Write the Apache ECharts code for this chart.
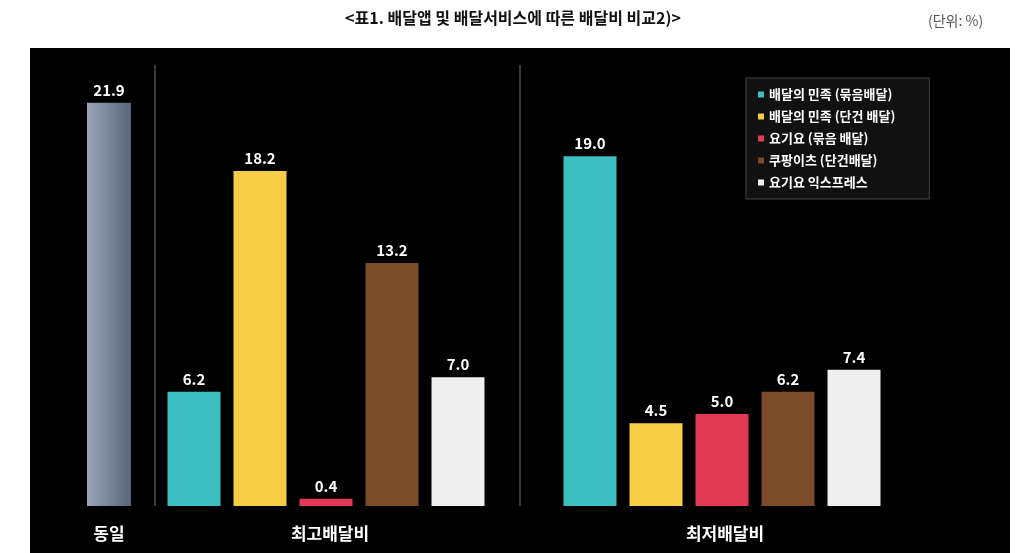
<!DOCTYPE html>
<html><head><meta charset="utf-8">
<script src="https://cdn.jsdelivr.net/npm/echarts@6/dist/echarts.min.js"></script>
<style>html,body{margin:0;padding:0;background:#fff}#c{width:1026px;height:553px}</style>
</head><body><div id="c"></div>
<script>
const groupNames = ['동일', '최고배달비', '최저배달비'];
const seriesNames = ['배달의 민족 (묶음배달)', '배달의 민족 (단건 배달)', '요기요 (묶음 배달)', '쿠팡이츠 (단건배달)', '요기요 익스프레스'];
const sameValue = [21.9];
const maxFee = [6.2, 18.2, 0.4, 13.2, 7.0];
const minFee = [19.0, 4.5, 5.0, 6.2, 7.4];
const colors = ['#3dbfc2', '#f7cd45', '#e23a55', '#7b4a26', '#eeeeee'];

const font = '"Noto Sans CJK KR", sans-serif';
const lbl = {show: true, position: 'top', color: '#fff', fontWeight: 'bold', fontSize: 15, fontFamily: font, formatter: p => p.value.toFixed(1)};
const grids = [
  {left: 87, width: 44, top: 101, bottom: 47},
  {left: 161, width: 330, top: 101, bottom: 47},
  {left: 557, width: 330, top: 101, bottom: 47}
];
const xAxis = grids.map((g, i) => ({type: 'category', gridIndex: i, data: i === 0 ? [groupNames[0]] : seriesNames, show: false}));
const yAxis = grids.map((g, i) => ({type: 'value', gridIndex: i, min: 0, max: 22, show: false}));
const series = [
  {type: 'bar', xAxisIndex: 0, yAxisIndex: 0, barWidth: 44, label: lbl,
   itemStyle: {color: new echarts.graphic.LinearGradient(0, 0, 1, 0, [{offset: 0, color: '#9aa4b6'}, {offset: 1, color: '#5a6478'}])},
   data: sameValue}
];
seriesNames.forEach((n, k) => {
  [maxFee, minFee].forEach((arr, gi) => {
    const d = arr.map((v, j) => j === k ? v : '-');
    series.push({type: 'bar', name: n, xAxisIndex: gi + 1, yAxisIndex: gi + 1, barWidth: 53, barGap: '-100%',
      label: lbl, itemStyle: {color: colors[k]}, data: d});
  });
});
const chart = echarts.init(document.getElementById('c'));
chart.setOption({
  animation: false,
  color: colors,
  grid: grids,
  xAxis, yAxis, series,
  legend: {
    data: seriesNames, orient: 'vertical', left: 746, top: 78, itemGap: 9,
    itemWidth: 6, itemHeight: 6, icon: 'rect',
    textStyle: {color: '#fff', fontWeight: 'bold', fontSize: 13, fontFamily: font},
    backgroundColor: '#111', borderColor: '#444', borderWidth: 1, padding: [10, 34, 10, 12]
  },
  graphic: [
    {type: 'rect', z: -10, shape: {x: 30, y: 48, width: 980, height: 510}, style: {fill: '#000'}},
    {type: 'line', shape: {x1: 155, y1: 65, x2: 155, y2: 506}, style: {stroke: '#777', lineWidth: 1}},
    {type: 'line', shape: {x1: 520, y1: 65, x2: 520, y2: 506}, style: {stroke: '#777', lineWidth: 1}},
    {type: 'text', left: 'center', top: 10, style: {text: '<표1. 배달앱 및 배달서비스에 따른 배달비 비교2)>', fill: '#111', font: 'bold 16px ' + font}},
    {type: 'text', left: 928, top: 14, style: {text: '(단위: %)', fill: '#555', font: '14px ' + font}},
    {type: 'text', x: 109, y: 534, style: {text: groupNames[0], fill: '#fff', font: 'bold 17px ' + font, align: 'center', verticalAlign: 'middle'}},
    {type: 'text', x: 330, y: 534, style: {text: groupNames[1], fill: '#fff', font: 'bold 17px ' + font, align: 'center', verticalAlign: 'middle'}},
    {type: 'text', x: 725, y: 534, style: {text: groupNames[2], fill: '#fff', font: 'bold 17px ' + font, align: 'center', verticalAlign: 'middle'}}
  ]
});
</script></body></html>
